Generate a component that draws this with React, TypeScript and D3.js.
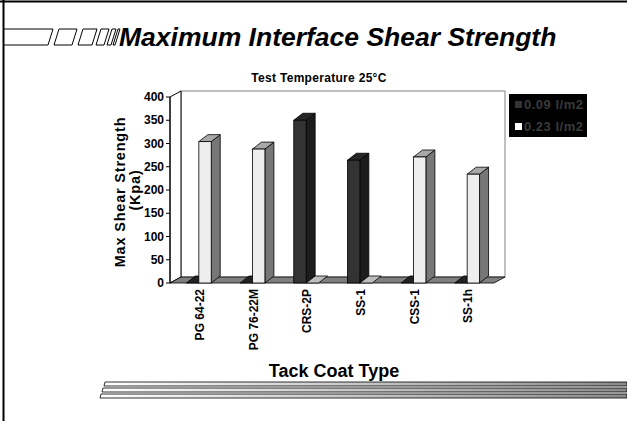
import React from "react";
import * as d3 from "d3";

const categories = ["PG 64-22", "PG 76-22M", "CRS-2P", "SS-1", "CSS-1", "SS-1h"];
const series09 = [0, 0, 350, 264, 0, 0];
const series23 = [304, 288, 0, 0, 271, 234];
const seriesNames = ["0.09 l/m2", "0.23 l/m2"];
const yTicks = [0, 50, 100, 150, 200, 250, 300, 350, 400];

const W = 627;
const H = 421;
const FONT = "'Liberation Sans', Arial, sans-serif";

const x0 = 170, x1 = 494, yTop = 97, yBot = 283;
const wallDx = 11, wallDy = -6;
const barDx = 9, barDy = -7;
const barW = 12.4;

const styles = [
  { front: "#333333", side: "#1c1c1c", top: "#262626" },
  { front: "#eeeeee", side: "#777777", top: "#a8a8a8" },
];
const zeroTop = ["#222222", "#bdbdbd"];

export default function App() {
  const x = d3.scaleBand<string>().domain(categories).range([x0 + 2, x1]);
  const y = d3.scaleLinear().domain([0, 400]).range([yBot, yTop]);
  const poly = (pts: [number, number][]) => pts.map((p) => p.join(",")).join(" ");

  const bars: React.ReactNode[] = [];
  categories.forEach((c, i) => {
    const cx = (x(c) as number) + x.bandwidth() / 2;
    [series09[i], series23[i]].forEach((v, s) => {
      const left = s === 0 ? cx - barW : cx;
      const right = left + barW;
      const top = y(v);
      const st = styles[s];
      const key = `${i}-${s}`;
      if (v === 0) {
        bars.push(
          <polygon key={key} points={poly([[left, yBot], [right, yBot], [right + barDx, yBot + barDy], [left + barDx, yBot + barDy]])}
            fill={zeroTop[s]} stroke="#000" strokeWidth={0.8} />
        );
      } else {
        bars.push(
          <g key={key} stroke="#000" strokeWidth={0.8}>
            <polygon points={poly([[right, top], [right + barDx, top + barDy], [right + barDx, yBot + barDy], [right, yBot]])} fill={st.side} />
            <polygon points={poly([[left, top], [left + barDx, top + barDy], [right + barDx, top + barDy], [right, top]])} fill={st.top} />
            <rect x={left} y={top} width={barW} height={yBot - top} fill={st.front} />
          </g>
        );
      }
    });
  });

  return (
    <svg width={W} height={H} style={{ position: "absolute", left: 0, top: 0, background: "#fff" }}>
      <defs>
        <linearGradient id="lineGrad" x1="0" x2="1" y1="0" y2="0">
          <stop offset="0" stopColor="#ffffff" />
          <stop offset="1" stopColor="#8a8a8a" />
        </linearGradient>
      </defs>
      {/* frame */}
      <line x1={0} y1={1.5} x2={W} y2={1.5} stroke="#000" strokeWidth={2} />
      <line x1={3.5} y1={0} x2={3.5} y2={H} stroke="#000" strokeWidth={2} />

      {/* title decoration */}
      <g stroke="#000" strokeWidth={1} fill="#fff">
        <polygon points={poly([[4, 29], [53, 29], [48, 45], [4, 45]])} />
        <polygon points={poly([[59, 29], [77, 29], [72, 45], [54, 45]])} />
        <polygon points={poly([[83, 29], [97, 29], [92, 45], [78, 45]])} />
        <polygon points={poly([[101, 29], [109, 29], [104, 45], [96, 45]])} />
        <polygon points={poly([[112, 29], [116, 29], [111, 45], [107, 45]])} />
        <polygon points={poly([[118, 29], [120, 29], [115, 45], [113, 45]])} />
      </g>
      <text x={119} y={46} fontFamily={FONT} fontSize={26.5} fontWeight="bold" fontStyle="italic" fill="#000">
        Maximum Interface Shear Strength
      </text>

      <text x={319} y={82} textAnchor="middle" fontFamily={FONT} fontSize={12} fontWeight="bold" letterSpacing={0.3}>
        Test Temperature 25°C
      </text>

      {/* walls */}
      <rect x={x0 + wallDx} y={yTop + wallDy} width={x1 - x0} height={yBot - yTop} fill="#fff" stroke="#808080" strokeWidth={1} />
      <polygon points={poly([[x0, yTop], [x0 + wallDx, yTop + wallDy], [x0 + wallDx, yBot + wallDy], [x0, yBot]])} fill="#fff" stroke="#000" strokeWidth={1} />
      {/* floor */}
      <polygon points={poly([[x0, yBot], [x1, yBot], [x1 + wallDx, yBot + wallDy], [x0 + wallDx, yBot + wallDy]])} fill="#808080" stroke="#000" strokeWidth={0.8} />

      {bars}

      {/* y axis */}
      <line x1={x0} y1={yTop} x2={x0} y2={yBot} stroke="#000" strokeWidth={1} />
      {yTicks.map((t) => (
        <g key={t}>
          <line x1={x0 - 4} x2={x0} y1={y(t)} y2={y(t)} stroke="#000" />
          <text x={x0 - 6} y={y(t)} dy="0.35em" textAnchor="end" fontFamily={FONT} fontSize={12} fontWeight="bold">{t}</text>
        </g>
      ))}
      <text transform="translate(125,192) rotate(-90)" textAnchor="middle" fontFamily={FONT} fontSize={14.5} fontWeight="bold" letterSpacing={0.8}>Max Shear Strength</text>
      <text transform="translate(139.5,190) rotate(-90)" textAnchor="middle" fontFamily={FONT} fontSize={14.5} fontWeight="bold" letterSpacing={0.8}>(Kpa)</text>

      {/* x labels */}
      {categories.map((c) => {
        const cx = (x(c) as number) + x.bandwidth() / 2;
        return (
          <text key={c} transform={`translate(${cx + 5},289) rotate(-90)`} textAnchor="end" fontFamily={FONT} fontSize={12} fontWeight="bold">{c}</text>
        );
      })}
      <text x={334} y={377} textAnchor="middle" fontFamily={FONT} fontSize={18} fontWeight="bold">Tack Coat Type</text>

      {/* legend */}
      <rect x={509} y={94} width={78} height={43} fill="#000" />
      <rect x={515} y={101} width={7} height={7} fill="#333" />
      <text x={524} y={109} fontFamily={FONT} fontSize={13} fontWeight="bold" fill="#3a3a3a" letterSpacing={0.5}>{seriesNames[0]}</text>
      <rect x={515} y={123} width={7} height={7} fill="#fff" />
      <text x={524} y={131} fontFamily={FONT} fontSize={13} fontWeight="bold" fill="#3a3a3a" letterSpacing={0.5}>{seriesNames[1]}</text>

      {/* bottom lines */}
      <g stroke="#000" strokeWidth={0.8} fill="url(#lineGrad)">
        <polygon points={poly([[105, 382], [W, 382], [W, 386], [104, 386]])} />
        <polygon points={poly([[103, 388], [W, 388], [W, 392], [102, 392]])} />
        <polygon points={poly([[101, 394], [W, 394], [W, 398], [100, 398]])} />
      </g>
    </svg>
  );
}
